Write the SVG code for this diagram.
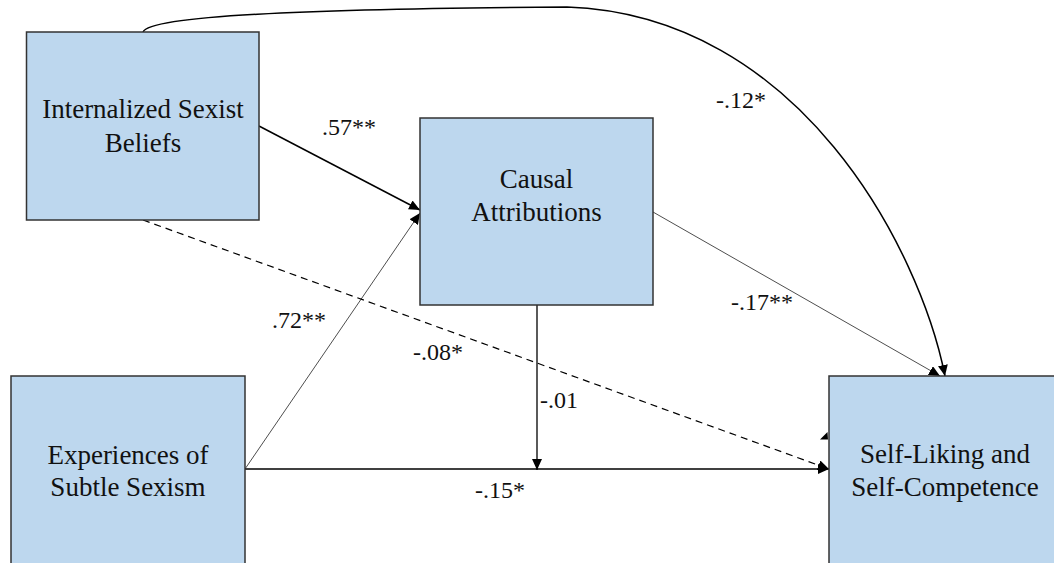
<svg xmlns="http://www.w3.org/2000/svg" width="1054" height="563" viewBox="0 0 1054 563">
<style>
.box{fill:#BDD7EE;stroke:#333;stroke-width:1.5}
.nt{font-family:"Liberation Serif","Times New Roman",serif;font-size:27px;fill:#111;text-anchor:middle}
.lb{font-family:"Liberation Serif","Times New Roman",serif;font-size:24px;fill:#111}
.c{fill:none;stroke:#000}
</style>
<defs>
<marker id="ah" markerUnits="userSpaceOnUse" markerWidth="12" markerHeight="10" refX="11" refY="5" orient="auto">
<path d="M0,0 L11,5 L0,10 Z" fill="#000"/>
</marker>
</defs>
<rect width="1054" height="563" fill="#fff"/>
<g id="connectors">
<path class="c" style="stroke-width:1.5" d="M143,32 C150,16 300,9 567,7 C800,15 920,250 945,376" marker-end="url(#ah)"/>
<line class="c" style="stroke-width:1.5" x1="259" y1="126" x2="420" y2="210" marker-end="url(#ah)"/>
<line class="c" style="stroke-width:0.7" x1="245" y1="469" x2="420" y2="213" marker-end="url(#ah)"/>
<line class="c" style="stroke-width:0.7" x1="653" y1="212" x2="940" y2="376" marker-end="url(#ah)"/>
<line class="c" style="stroke-width:1.2;stroke-dasharray:7 5" x1="143" y1="220" x2="829" y2="469" marker-end="url(#ah)"/>
<line class="c" style="stroke-width:1.3" x1="245" y1="469" x2="829" y2="469" marker-end="url(#ah)"/>
<line class="c" style="stroke-width:1.3" x1="537" y1="305" x2="537" y2="470" marker-end="url(#ah)"/>
<polygon points="820,439.5 827.5,432 828,439.5" fill="#000"/>
</g>
<g id="labels">
<text class="lb" x="322" y="135">.57**</text>
<text class="lb" x="716" y="108">-.12*</text>
<text class="lb" x="272" y="328">.72**</text>
<text class="lb" x="413" y="360">-.08*</text>
<text class="lb" x="731" y="310">-.17**</text>
<text class="lb" x="540" y="408">-.01</text>
<text class="lb" x="475" y="498">-.15*</text>
</g>
<g id="internalized">
<rect class="box" x="26.5" y="32" width="232.5" height="188"/>
<text class="nt" x="143" y="118">Internalized Sexist</text>
<text class="nt" x="143" y="152">Beliefs</text>
</g>
<g id="causal">
<rect class="box" x="420" y="118" width="233" height="187"/>
<text class="nt" x="536.5" y="188">Causal</text>
<text class="nt" x="536.5" y="221">Attributions</text>
</g>
<g id="experiences">
<rect class="box" x="11" y="376" width="234" height="200"/>
<text class="nt" x="128" y="464">Experiences of</text>
<text class="nt" x="128" y="496">Subtle Sexism</text>
</g>
<g id="selfliking">
<rect class="box" x="829" y="376" width="240" height="200"/>
<text class="nt" x="945" y="463">Self-Liking and</text>
<text class="nt" x="945" y="496">Self-Competence</text>
</g>
</svg>
